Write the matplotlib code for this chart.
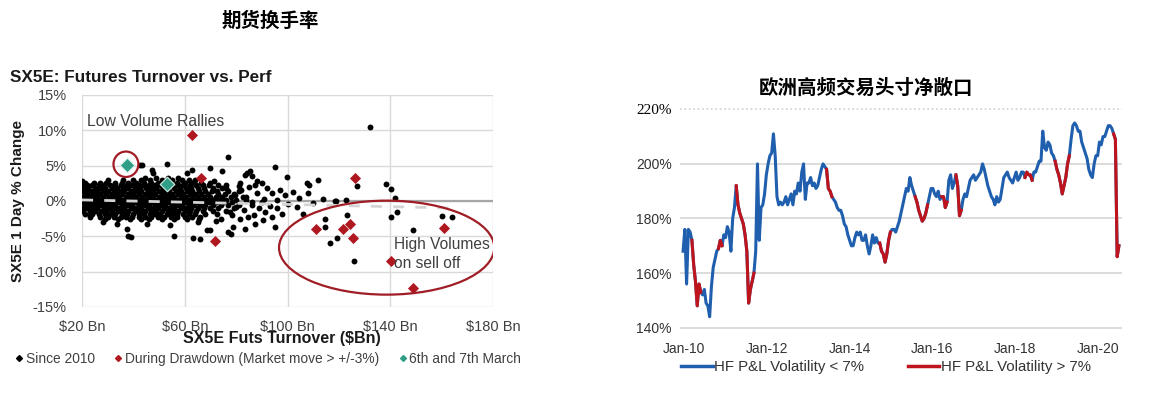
import matplotlib.pyplot as plt
import numpy as np
import pandas as pd
from matplotlib.lines import Line2D
from matplotlib.patches import Ellipse

# ---------------- left chart: SX5E futures turnover vs 1 day perf ----------------
# dense cloud of daily points since 2010, read row by row (% change level -> turnover $Bn)
blob_levels = [3.3, 3.0, 2.6, 2.2, 1.8, 1.4, 1.0, 0.6, 0.2, -0.2, -0.6, -1.0, -1.4, -1.8, -2.2, -2.6]
blob_turnover = [
    [44.5, 49, 53.5, 57.5],
    [30, 36, 40, 43, 46.5, 51, 55, 59, 61.5, 64],
    [21, 24.5, 27, 29.5, 33, 35.5, 38, 41, 44, 47, 49.5, 52, 54.5, 57, 60, 63, 66.5, 70],
    [20, 22, 24, 26.5, 28.5, 31, 33, 35, 37.5, 39.5, 42, 44, 46, 48.5, 50.5, 53, 55, 57.5, 59.5, 62,
     64.5, 67, 69.5, 73, 76],
    [20.5, 22.5, 25, 27, 29, 31.5, 33.5, 36, 38, 40.5, 42.5, 45, 47, 49, 51.5, 53.5, 56, 58, 60.5, 62.5,
     65, 67.5, 71, 74.5],
    [20, 22, 24, 26, 28, 30, 32.5, 34.5, 36.5, 39, 41, 43, 45.5, 47.5, 50, 52, 54, 56.5, 58.5, 61, 63,
     65.5, 68, 70.5, 72.5, 77, 81],
    [21, 23, 25, 27, 29.5, 31.5, 33.5, 35.5, 38, 40, 42, 44.5, 46.5, 48.5, 51, 53, 55, 57.5, 59.5, 62,
     64, 66.5, 69, 73, 75.5, 79],
    [20, 22, 24, 26, 28, 30.5, 32.5, 34.5, 37, 39, 41, 43.5, 45.5, 47.5, 50, 52, 54, 56, 58.5, 60.5, 63,
     65, 67.5, 70, 72, 74.5, 78, 82.5],
    [21, 23, 25, 27, 29, 31, 33.5, 35.5, 37.5, 40, 42, 44, 46.5, 48.5, 50.5, 53, 55, 57, 59.5, 61.5, 64,
     66, 68.5, 71, 73.5, 76, 80, 84],
    [20, 22, 24, 26, 28, 30, 32, 34.5, 36.5, 38.5, 41, 43, 45, 47.5, 49.5, 51.5, 54, 56, 58, 60.5, 62.5,
     65, 67, 69.5, 72, 75, 78.5, 86],
    [21, 23, 25, 27, 29, 31, 33, 35.5, 37.5, 39.5, 42, 44, 46, 48.5, 50.5, 52.5, 55, 57, 59, 61.5, 63.5,
     66, 68, 71, 74, 77, 81],
    [20, 22, 24, 26, 28.5, 30.5, 32.5, 34.5, 36.5, 39, 41, 43, 45.5, 47.5, 49.5, 52, 54, 56, 58.5, 60.5,
     62.5, 65, 67.5, 70, 73, 79],
    [20.5, 23, 25, 27.5, 29.5, 31.5, 34, 36, 38, 40.5, 42.5, 44.5, 47, 49, 51, 53.5, 55.5, 57.5, 60, 62,
     64.5, 67, 71, 76],
    [21, 24, 26.5, 29, 31, 33, 35.5, 37.5, 40, 42, 44, 46.5, 48.5, 50.5, 53, 55, 57, 59.5, 61.5, 64, 68,
     72.5],
    [23, 27, 30, 32.5, 35, 37, 39.5, 42, 44.5, 47, 49.5, 52, 54.5, 57, 60, 63, 66],
    [29, 34, 38.5, 43, 46, 51, 56, 61, 65.5],
]
# scattered points outside the dense cloud
outlier_turnover = [76.8, 53, 42.6, 47.2, 62.7, 84.2, 95.2, 99.7, 71.2, 81.5, 88, 38, 74.4, 83.5, 85.4,
                    86.1, 87.4, 90, 93.9, 99.1, 104.3, 107.5, 108.2, 107.8, 112, 110.1, 114, 119, 122.8,
                    103.6, 106.2, 114.7, 123.1, 114.7, 119.2, 116.6, 95.2, 90.6, 87.4, 83.5, 78.9, 77,
                    69.9, 81.5, 78.3, 91.3, 95.8, 132.2, 127, 138.4, 140.4, 141.7, 118.6, 142.6, 140.2,
                    160.1, 164, 149, 126, 39.1, 55.8, 65.8, 78, 43.2, 47.8, 60.8, 69.9, 19.9, 33.5, 37.4,
                    45.2, 54.3, 63.4, 65.3, 68.6, 23.1, 28.3, 82, 84, 86, 88, 89, 91, 92, 83, 85, 87, 90,
                    93, 96, 97, 94, 98, 100, 102, 80, 79.5, 81, 84.5, 76, 77.5, 74, 72]
outlier_change = [6.2, 5.2, 5.1, 4.4, 4.4, 4.0, 4.8, 3.4, 2.8, 2.5, 2.8, -4.9, 4.2, 3.7, 4.2,
                  3.5, 2.3, 2.5, 1.2, 0.9, 0.4, 2.5, 2.2, 1.1, 3.0, -0.3, 0.3, 0.0, 0.2,
                  -0.8, -1.8, -2.5, -2.0, -3.7, -5.3, -6.0, -3.7, -2.7, -3.3, -3.9, -3.7, -4.4,
                  -4.1, -2.5, -2.0, -1.5, -1.0, 10.5, 2.1, 2.4, 1.7, 0.4, 0.0, -1.5, -2.3,
                  -2.1, -2.3, -4.1, -8.5, -5.1, -4.9, -5.4, -4.6, 5.1, 4.0, 4.0, 4.7, 2.8, -3.2, -3.9,
                  -3.2, -3.4, -5.3, -3.0, -4.1, -2.0, -3.0, 1.5, 0.5, -0.5, 1.2, -1.0, 0.3, 1.8, -1.3, 2.0,
                  -2.0, -0.2, -0.7, 0.2, 1.6, -2.2, -1.8, -0.4, 1.3, -0.8, 0.9, 2.1, -2.3, 1.8, -1.5, -2.5,
                  -2.9]
drawdown_turnover = [62.7, 66.3, 71.8, 111.2, 121.8, 124.4, 125.4, 126.4, 140.4, 149, 161]
drawdown_change = [9.3, 3.2, -5.6, -4.0, -3.9, -3.3, -5.2, 3.3, -8.5, -12.3, -3.8]
march_turnover = [37.4, 53.0]
march_change = [5.1, 2.4]

turnover_ticks = [20, 60, 100, 140, 180]
turnover_labels = [r"\$20 Bn", r"\$60 Bn", r"\$100 Bn", r"\$140 Bn", r"\$180 Bn"]
change_ticks = [-15, -10, -5, 0, 5, 10, 15]
change_labels = ["-15%", "-10%", "-5%", "0%", "5%", "10%", "15%"]

# ---------------- right chart: European HF net exposure ----------------
hf_start, hf_end = "2009-12-23", "2020-07-04"
hf_exposure = [
    168, 176, 156, 176, 175, 172, 163, 157, 148, 156, 153, 152, 154, 149, 148, 144, 155, 162, 165, 168, 169, 172, 170, 174,
    173, 177, 175, 168, 180, 184, 192, 185, 182, 180, 178, 174, 168, 149, 154, 157, 160, 168, 200, 172, 184, 185, 189, 196,
    200, 203, 204, 211, 203, 188, 185, 186, 185, 186, 188, 185, 187, 189, 185, 190, 189, 193, 190, 197, 200, 187, 193, 193,
    195, 192, 193, 191, 192, 195, 198, 200, 199, 198, 191, 190, 188, 187, 186, 184, 183, 183, 181, 178, 177, 174, 172, 170,
    170, 173, 175, 174, 175, 172, 172, 174, 170, 167, 170, 174, 171, 173, 171, 171, 168, 167, 164, 167, 172, 175, 176, 176,
    175, 177, 179, 182, 185, 188, 191, 190, 195, 192, 190, 188, 186, 183, 181, 179, 180, 182, 185, 188, 191, 191, 189, 188,
    190, 187, 188, 188, 184, 186, 194, 196, 191, 193, 196, 192, 181, 183, 187, 189, 188, 191, 194, 195, 196, 194, 195, 196,
    197, 200, 198, 195, 192, 190, 188, 187, 185, 188, 186, 187, 191, 195, 196, 197, 195, 194, 193, 195, 197, 194, 195, 197,
    197, 195, 197, 196, 196, 194, 197, 197, 199, 201, 201, 212, 206, 205, 208, 207, 204, 203, 201, 198, 196, 193, 189, 192,
    195, 200, 203, 209, 214, 215, 214, 212, 212, 208, 206, 204, 202, 198, 196, 195, 200, 203, 203, 208, 207, 210, 210, 212,
    214, 214, 213, 211, 209, 166, 170,
]
high_vol_periods = [("2010-03-20", "2010-06-02"), ("2010-11-10", "2010-12-06"), ("2011-04-14", "2011-09-12"),
                    ("2013-06-21", "2013-08-02"), ("2014-10-03", "2014-12-31"), ("2015-08-11", "2015-11-24"),
                    ("2016-04-03", "2016-05-15"), ("2016-08-06", "2016-09-17"), ("2018-04-07", "2018-06-04"),
                    ("2018-12-29", "2019-04-28"), ("2020-05-29", "2020-07-10")]
year_ticks = [2010, 2012, 2014, 2016, 2018, 2020]
pct_ticks = [140, 160, 180, 200, 220]

blue = "#1f5fae"
red = "#c0141c"
grid_c = "#d9d9d9"
txt_c = "#404040"

fig = plt.figure(figsize=(11.51, 3.95), dpi=100)
W, H = 1151, 395

# titles
fig.text(270 / W, 1 - 21 / H, "期货换手率", family=["Noto Sans CJK SC"], weight="bold",
         fontsize=14, ha="center", va="center")
fig.text(866 / W, 1 - 88 / H, "欧洲高频交易头寸净敞口", family=["Noto Sans CJK SC"], weight="bold",
         fontsize=14, ha="center", va="center")

# ---- left axes ----
ax1 = fig.add_axes([82 / W, 1 - 307 / H, 411 / W, 212 / H])
ax1.set_xlim(20, 180)
ax1.set_ylim(-15, 15)
ax1.set_xticks(turnover_ticks)
ax1.set_xticklabels(turnover_labels)
ax1.set_yticks(change_ticks)
ax1.set_yticklabels(change_labels)
ax1.tick_params(length=0, labelsize=10.5, labelcolor=txt_c, colors=txt_c)
ax1.tick_params(axis="y", pad=11)
ax1.tick_params(axis="x", pad=9)
for lbl in ax1.get_xticklabels() + ax1.get_yticklabels():
    lbl.set_family("Liberation Sans")
ax1.grid(True, color=grid_c, lw=1)
ax1.set_axisbelow(True)
for s in ax1.spines.values():
    s.set_visible(False)
ax1.axhline(0, color="#a6a6a6", lw=1.6, zorder=1)

since_x = [x for row in blob_turnover for x in row] + outlier_turnover
since_y = [lvl for lvl, row in zip(blob_levels, blob_turnover) for _ in row] + outlier_change
ax1.scatter(since_x, since_y, s=18, marker="o", color="black", lw=0, zorder=2)
ax1.plot([20, 165], [0.15, -1.0], color="#d4d4d4", lw=2, dashes=(4, 4), zorder=3)
ax1.scatter(drawdown_turnover, drawdown_change, s=32, marker="D", color="#b01820", lw=0, zorder=4)
ax1.scatter(march_turnover, march_change, s=55, marker="D", color="#2e9e86",
            edgecolor="#d8efe8", lw=0.8, zorder=5)

ax1.add_patch(Ellipse((37.1, 5.2), 9.7, 3.6, fill=False, ec="#a01d26", lw=1.6, zorder=6))
ax1.add_patch(Ellipse((138.6, -6.6), 83.8, 13.3, fill=False, ec="#a01d26", lw=1.6, zorder=6))

ax1.text(21.9, 11.2, "Low Volume Rallies", fontsize=11.3, color=txt_c, family="Liberation Sans",
         va="center", ha="left")
ax1.text(141.5, -6.2, "High Volumes", fontsize=11.2, color=txt_c, family="Liberation Sans",
         va="center", ha="left", zorder=7)
ax1.text(141.5, -8.8, "on sell off", fontsize=11.2, color=txt_c, family="Liberation Sans",
         va="center", ha="left", zorder=7)

fig.text(10 / W, 1 - 77 / H, "SX5E: Futures Turnover vs. Perf", fontsize=12.3, weight="bold",
         family="Liberation Sans", color="#1a1a1a", va="center", ha="left")
fig.text(18 / W, 1 - 201 / H, "SX5E 1 Day % Change", fontsize=11, weight="bold",
         family="Liberation Sans", color="#1a1a1a", rotation=90, va="center", ha="center")
fig.text(282 / W, 1 - 339 / H, r"SX5E Futs Turnover (\$Bn)", fontsize=11.5, weight="bold",
         family="Liberation Sans", color="#1a1a1a", va="center", ha="center")

left_handles = [Line2D([], [], ls="", marker="D", ms=3, color="black"),
                Line2D([], [], ls="", marker="D", ms=3, color="#b01820"),
                Line2D([], [], ls="", marker="D", ms=3, color="#2e9e86")]
fig.legend(left_handles, ["Since 2010", "During Drawdown (Market move > +/-3%)", "6th and 7th March"],
           loc="center", bbox_to_anchor=(268 / W, 1 - 359 / H), ncol=3, frameon=False,
           prop={"family": "Liberation Sans", "size": 9.9}, handlelength=0.6, handletextpad=0.2,
           columnspacing=1.4, labelcolor=txt_c)

# ---- right axes ----
ax2 = fig.add_axes([680 / W, 1 - 330.4 / H, 442 / W, 224.1 / H])
hf_dates = pd.date_range(hf_start, hf_end, periods=len(hf_exposure))
hf = pd.Series(hf_exposure, index=hf_dates)
ax2.set_xlim(pd.Timestamp("2009-11-26"), pd.Timestamp("2020-07-31"))
ax2.set_ylim(139, 221.1)
for v in pct_ticks[:-1]:
    ax2.axhline(v, color=grid_c, lw=1.3, zorder=0)
ax2.axhline(220, color="#cfcfcf", lw=1.2, ls=":", zorder=0)
ax2.plot(hf.index, hf.values, color=blue, lw=2.2, zorder=2)
for start, end in high_vol_periods:
    i0 = hf.index.searchsorted(pd.Timestamp(start))
    i1 = hf.index.searchsorted(pd.Timestamp(end), side="right")
    seg = hf.iloc[max(i0 - 1, 0):i1]
    ax2.plot(seg.index, seg.values, color=red, lw=2.2, zorder=3)

ax2.set_xticks([pd.Timestamp(f"{y}-01-01") for y in year_ticks])
ax2.set_xticklabels([f"Jan-{str(y)[2:]}" for y in year_ticks])
ax2.set_yticks(pct_ticks)
ax2.set_yticklabels([f"{v}%" for v in pct_ticks])
ax2.tick_params(length=0, labelsize=10, labelcolor="#333333")
ax2.tick_params(axis="y", pad=6)
ax2.tick_params(axis="x", pad=8)
for lbl in ax2.get_xticklabels() + ax2.get_yticklabels():
    lbl.set_family("Liberation Sans")
ax2.get_yticklabels()[-1].set_family("Liberation Serif")
ax2.get_yticklabels()[-1].set_color("black")
ax2.get_yticklabels()[-1].set_fontsize(11)
for s in ax2.spines.values():
    s.set_visible(False)

right_handles = [Line2D([], [], color=blue, lw=2.5), Line2D([], [], color=red, lw=2.5)]
fig.legend(right_handles, ["HF P&L Volatility < 7%", "HF P&L Volatility > 7%"],
           loc="center", bbox_to_anchor=(886 / W, 1 - 367 / H), ncol=2, frameon=False,
           prop={"family": "Liberation Sans", "size": 10.8}, handlelength=2.1, handletextpad=0.1,
           columnspacing=2.9, labelcolor="#333333")

fig.savefig("out.png", dpi=100, facecolor="white")
